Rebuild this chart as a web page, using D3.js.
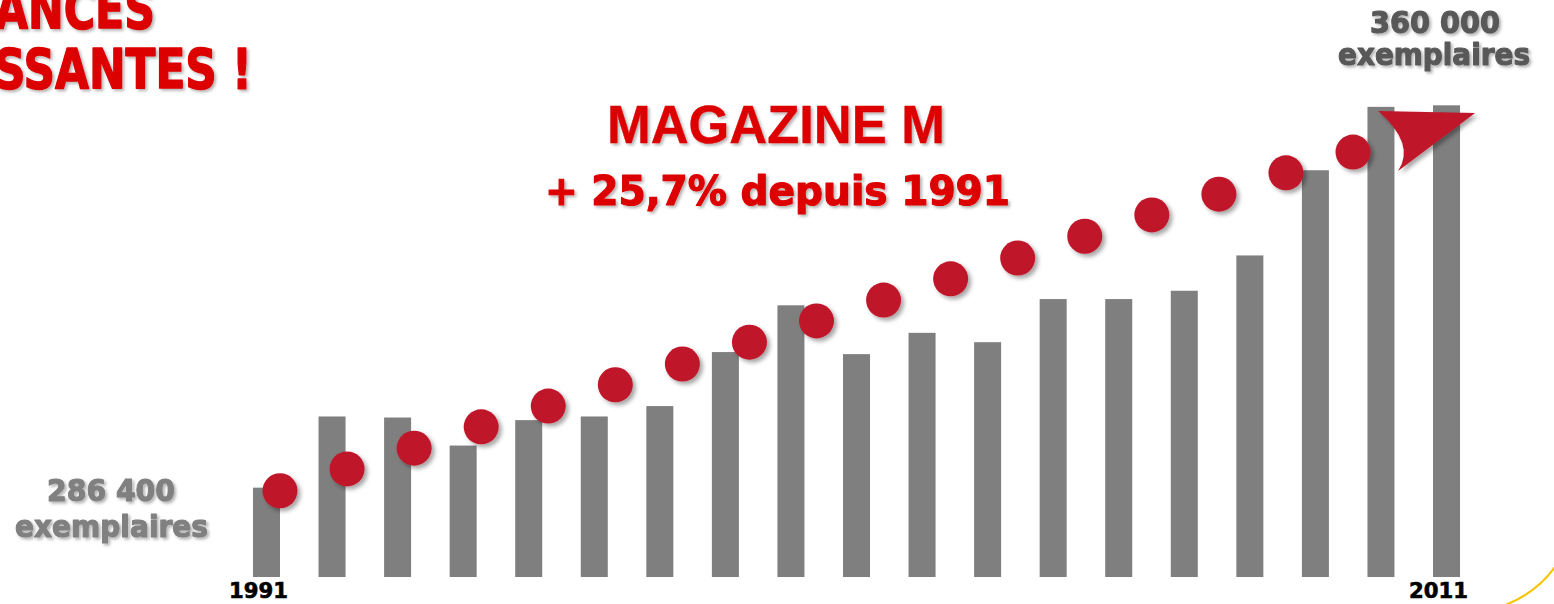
<!DOCTYPE html>
<html>
<head>
<meta charset="utf-8">
<script src="https://cdn.jsdelivr.net/npm/d3@7"></script>
<style>
  html, body { margin: 0; padding: 0; background: #ffffff; overflow: hidden; }
  svg { display: block; }
</style>
</head>
<body>
<script>
// ---- Data ----
const categories = ["1991","","","","","","","","","","","","","","","","","","2011"];
const circulation = [286400, 300100, 299900, 294500, 299400, 300100, 302100, 312500, 321500, 312100,
                     316200, 314400, 322700, 322700, 324300, 331100, 347500, 359700, 360000];
const trendDots = [285800, 290000, 294000, 298100, 302100, 306200, 310200, 314400, 318500, 322500,
                   326600, 330600, 334800, 338900, 342900, 347000, 351000];
const arrowValue = 353300;
const titleLines = ["MAGAZINE M", "+ 25,7% depuis 1991"];
const startLabel = ["286 400", "exemplaires"];
const endLabel = ["360 000", "exemplaires"];
const headline = ["ANCES", "SSANTES !"];

const W = 1554, H = 604;
const svg = d3.select("body").append("svg").attr("width", W).attr("height", H);

const defs = svg.append("defs");
const f1 = defs.append("filter").attr("id", "tshadow").attr("x", "-10%").attr("y", "-30%").attr("width", "130%").attr("height", "170%");
f1.append("feDropShadow").attr("dx", 2).attr("dy", 2).attr("stdDeviation", 1.5)
  .attr("flood-color", "#000").attr("flood-opacity", 0.3);
const f2 = defs.append("filter").attr("id", "dshadow").attr("x", "-50%").attr("y", "-50%").attr("width", "200%").attr("height", "200%");
f2.append("feDropShadow").attr("dx", 3).attr("dy", 3).attr("stdDeviation", 2)
  .attr("flood-color", "#000").attr("flood-opacity", 0.35);

// ---- Scales ----
const x = d3.scaleBand().domain(d3.range(categories.length))
  .range([233.7, 1479.3]).paddingInner(0.588).paddingOuter(0.294);
const y = d3.scaleLinear().domain([269200, 360000]).range([577, 105.3]);
const xd = d3.scaleLinear().domain([0, trendDots.length - 1]).range([280, 1353]);

// ---- Bars ----
svg.append("g").selectAll("rect").data(circulation).join("rect")
  .attr("x", (d, i) => x(i))
  .attr("y", d => y(d))
  .attr("width", x.bandwidth())
  .attr("height", d => y.range()[0] - y(d))
  .attr("fill", "#7f7f7f");

// ---- Trend dots ----
svg.append("g").selectAll("circle").data(trendDots).join("circle")
  .attr("cx", (d, i) => xd(i))
  .attr("cy", d => y(d))
  .attr("r", 17.5)
  .attr("fill", "#c0162a")
  .attr("filter", "url(#dshadow)");

// ---- Arrow head ----
const ax = xd(trendDots.length), ay = y(arrowValue);
svg.append("path")
  .attr("transform", `translate(${ax},${ay})`)
  .attr("d", "M-42,-29 L55,-27 L-22,31 Q-4,4 -42,-29 Z")
  .attr("fill", "#c0162a")
  .attr("filter", "url(#dshadow)");

// ---- Year labels ----
svg.append("g").selectAll("text").data(categories).join("text")
  .attr("x", (d, i) => x(i) + x.bandwidth() / 2 - 8)
  .attr("y", 598)
  .attr("text-anchor", "middle")
  .attr("font-family", "DejaVu Sans, sans-serif")
  .attr("font-weight", "bold")
  .attr("font-size", 21)
  .attr("fill", "#000")
  .attr("stroke", "#000")
  .attr("stroke-width", 0.6)
  .text(d => d)
  .each(function(d) { if (d) d3.select(this).attr("textLength", 59).attr("lengthAdjust", "spacingAndGlyphs"); });

function label(txt, cx, by, size, len, color, family, anchor, sw) {
  svg.append("text")
    .attr("x", cx).attr("y", by)
    .attr("text-anchor", anchor || "middle")
    .attr("font-family", family || "DejaVu Sans, sans-serif")
    .attr("font-weight", "bold")
    .attr("font-size", size)
    .attr("fill", color)
    .attr("stroke", color)
    .attr("stroke-width", sw === undefined ? 1.2 : sw)
    .attr("stroke-linejoin", "round")
    .attr("textLength", len)
    .attr("lengthAdjust", "spacingAndGlyphs")
    .attr("filter", "url(#tshadow)")
    .text(txt);
}

// ---- Headline (cut at left, as in the original slide) ----
label(headline[0], 155, 28, 55, 160, "#dd0000", null, "end", 1.5);
label(headline[1], 252, 88, 55, 258, "#dd0000", null, "end", 1.5);

// ---- Title ----
label(titleLines[0], 776, 143, 53, 338, "#dd0000", "Liberation Sans, Arial, sans-serif", "middle", 0.4);
label(titleLines[1], 777.5, 205, 40, 465, "#dd0000", null, "middle", 1.2);

// ---- Start / end annotations ----
label(startLabel[0], 111, 501, 30, 128, "#808080");
label(startLabel[1], 111.5, 537, 30, 193, "#808080");
label(endLabel[0], 1435, 33, 30, 130, "#595959");
label(endLabel[1], 1434, 65, 30, 192, "#595959");

// ---- Decorative yellow arc ----
svg.append("path")
  .attr("d", "M1500,607 Q1537,594 1557,564")
  .attr("fill", "none")
  .attr("stroke", "#f5c400")
  .attr("stroke-width", 2);
</script>
</body>
</html>
